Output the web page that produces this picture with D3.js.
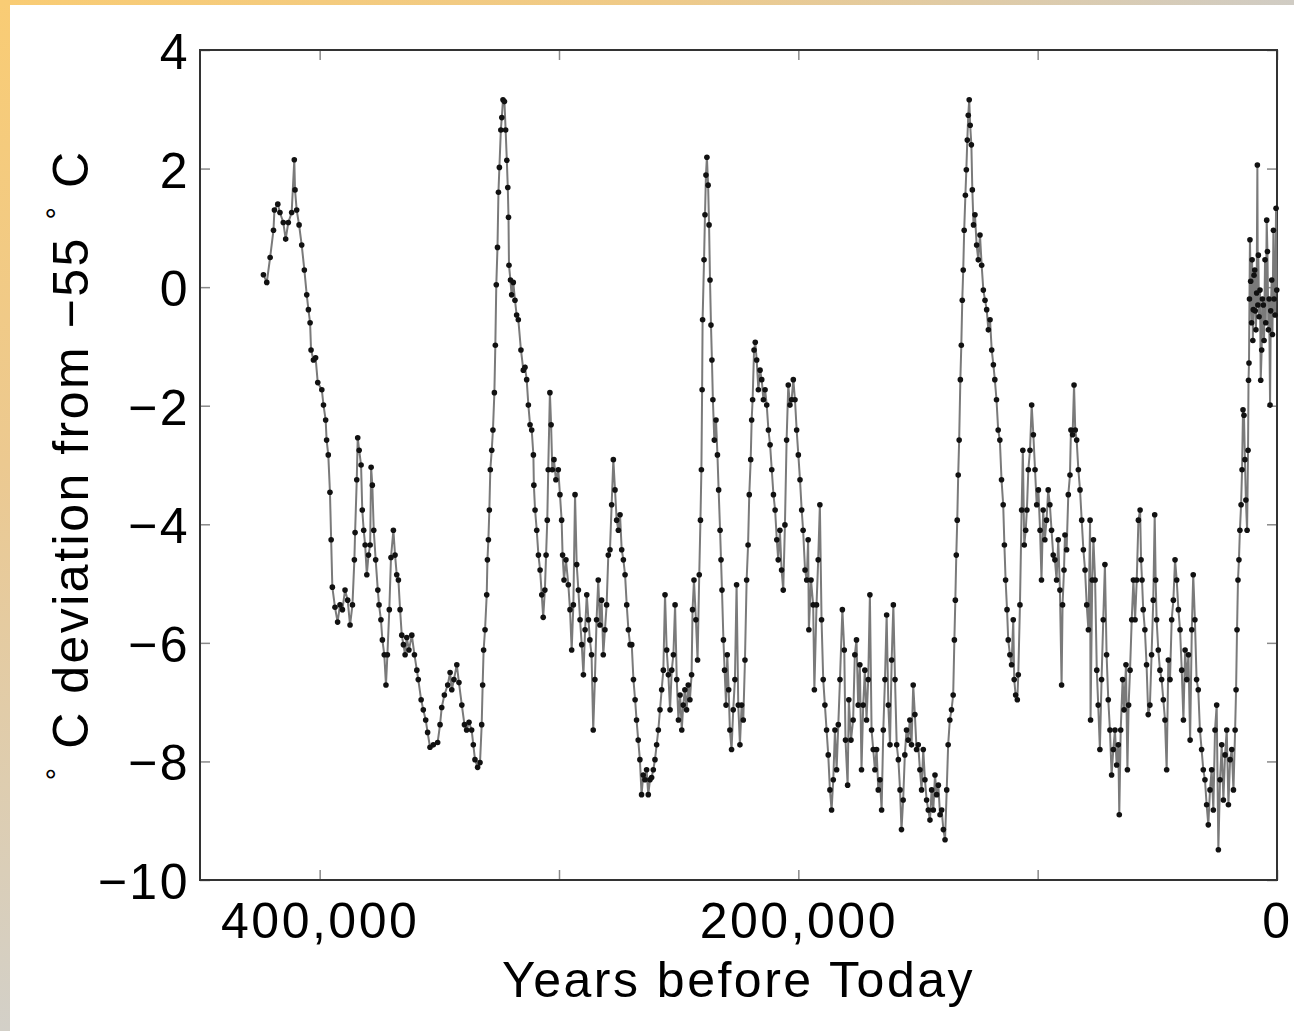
<!DOCTYPE html>
<html>
<head>
<meta charset="utf-8">
<script src="https://cdn.jsdelivr.net/npm/d3@7"></script>
<style>
  html, body { margin: 0; padding: 0; background: #fff; }
  svg text { font-family: 'Liberation Sans', Arial, Helvetica, sans-serif; fill: #000; }
</style>
</head>
<body>
<svg id="chart" width="1294" height="1031"></svg>
<script>
// Vostok record: [thousand years before today, deg C deviation]
const vostok = [
  [423.5, 0.21], [422.1, 0.08], [420.7, 0.50], [419.3, 0.96], [418.9, 1.30], [417.5, 1.40], [416.6, 1.26],
  [415.2, 1.09], [414.2, 0.81], [413.1, 1.09], [411.7, 1.26], [410.6, 2.15], [410.3, 1.64], [409.6, 1.30],
  [408.6, 1.05], [407.5, 0.71], [406.4, 0.29], [405.4, -0.13], [404.7, -0.38], [404.0, -0.60], [403.6, -1.06],
  [402.6, -1.23], [401.7, -1.19], [400.8, -1.61], [399.1, -1.73], [398.4, -1.99], [397.5, -2.24], [397.1, -2.58],
  [396.4, -2.83], [395.7, -3.46], [395.2, -4.26], [394.7, -5.06], [393.6, -5.40], [392.5, -5.65], [391.5, -5.36],
  [390.5, -5.44], [389.4, -5.11], [388.3, -5.28], [387.3, -5.70], [386.3, -5.36], [385.5, -4.60], [385.2, -4.14],
  [384.5, -3.25], [384.1, -2.54], [383.5, -2.75], [382.7, -3.00], [382.2, -3.76], [381.6, -4.10], [381.0, -4.35],
  [380.3, -4.85], [379.6, -4.52], [378.9, -4.35], [378.5, -3.04], [378.0, -3.34], [377.4, -4.10], [376.6, -4.60],
  [375.7, -5.11], [375.2, -5.36], [374.4, -5.61], [373.8, -5.95], [373.0, -6.20], [372.3, -6.71], [371.7, -6.20],
  [370.9, -5.44], [370.2, -4.56], [369.2, -4.10], [368.5, -4.52], [367.8, -4.85], [367.1, -4.94], [366.4, -5.44],
  [365.7, -5.87], [365.0, -6.03], [364.3, -6.20], [363.6, -5.91], [362.7, -6.12], [361.5, -5.87], [360.4, -6.20],
  [359.4, -6.46], [358.8, -6.62], [357.6, -6.96], [356.7, -7.13], [355.7, -7.30], [354.9, -7.51], [353.9, -7.76],
  [352.5, -7.72], [350.7, -7.68], [349.7, -7.38], [349.0, -7.09], [347.9, -6.88], [346.5, -6.71], [345.5, -6.50],
  [344.8, -6.79], [343.9, -6.62], [342.7, -6.37], [341.8, -6.67], [340.6, -7.05], [339.5, -7.38], [338.6, -7.47],
  [337.6, -7.34], [336.5, -7.47], [335.8, -7.72], [335.1, -7.97], [334.0, -8.10], [333.0, -8.02], [332.3, -7.38],
  [331.9, -6.71], [331.5, -6.12], [330.9, -5.78], [330.2, -5.19], [329.9, -4.60], [329.5, -4.26], [329.1, -3.76],
  [328.7, -3.08], [328.1, -2.75], [327.6, -2.41], [327.0, -1.78], [326.6, -0.98], [326.2, 0.04], [325.7, 0.67],
  [325.3, 1.60], [324.9, 2.02], [324.3, 2.65], [323.9, 2.86], [323.4, 3.16], [322.8, 3.13], [322.3, 2.65],
  [321.8, 2.14], [321.4, 1.68], [321.1, 1.18], [320.9, 0.37], [320.3, 0.12], [319.8, -0.13], [319.1, 0.08],
  [318.4, -0.22], [317.7, -0.47], [317.0, -0.55], [315.9, -1.06], [314.9, -1.40], [314.2, -1.35], [313.5, -1.56],
  [312.8, -1.99], [312.1, -2.32], [311.4, -2.41], [310.7, -2.83], [310.5, -3.34], [310.0, -3.76], [309.3, -4.10],
  [308.6, -4.52], [307.9, -4.77], [307.2, -5.19], [306.6, -5.57], [305.9, -5.11], [305.4, -4.52], [304.9, -3.93],
  [304.5, -3.08], [303.8, -1.78], [303.3, -2.32], [302.8, -3.08], [302.1, -2.91], [301.3, -3.25], [300.3, -3.08],
  [299.6, -3.50], [298.9, -3.93], [298.5, -4.52], [297.9, -4.94], [297.1, -4.60], [296.1, -5.02], [295.4, -5.44],
  [294.7, -6.12], [294.0, -5.36], [293.3, -3.50], [292.6, -4.68], [291.9, -5.11], [291.2, -5.61], [290.5, -6.03],
  [289.8, -6.54], [289.1, -5.78], [288.4, -5.19], [287.7, -5.61], [287.1, -5.95], [286.4, -6.20], [285.7, -7.47],
  [285.0, -6.62], [284.3, -5.61], [283.6, -4.94], [282.9, -5.70], [282.2, -5.28], [281.5, -6.20], [280.8, -5.78],
  [280.1, -5.36], [279.4, -4.52], [278.7, -4.43], [278.0, -3.67], [277.3, -2.91], [276.6, -3.42], [275.9, -3.93],
  [275.2, -4.10], [274.5, -3.84], [273.8, -4.43], [273.1, -4.60], [272.4, -4.85], [271.7, -5.36], [271.0, -5.78],
  [270.3, -6.03], [269.6, -6.03], [268.9, -6.62], [268.2, -6.96], [267.6, -7.30], [266.9, -7.64], [266.2, -7.97],
  [265.5, -8.56], [264.8, -8.23], [264.1, -8.31], [263.4, -8.14], [262.7, -8.56], [262.0, -8.31], [261.3, -8.27],
  [260.6, -8.14], [259.9, -7.97], [259.2, -7.72], [258.5, -7.47], [257.8, -7.13], [257.1, -6.79], [256.4, -6.46],
  [255.7, -5.19], [255.0, -6.12], [254.3, -6.54], [253.6, -7.13], [252.9, -6.46], [252.2, -6.20], [251.5, -5.36],
  [250.8, -6.62], [250.1, -7.30], [249.4, -6.88], [248.7, -7.47], [248.1, -7.05], [247.4, -6.79], [246.7, -7.13],
  [246.0, -6.71], [245.3, -6.96], [244.6, -6.54], [244.2, -5.44], [243.6, -4.94], [242.8, -5.61], [242.1, -6.29],
  [241.4, -4.85], [240.9, -3.93], [240.5, -3.08], [240.2, -1.73], [240.0, -0.55], [239.4, 0.46], [239.0, 1.22],
  [238.6, 1.89], [238.2, 2.19], [237.7, 1.72], [237.3, 1.05], [236.9, 0.12], [236.5, -0.64], [236.1, -1.23],
  [235.7, -1.90], [235.1, -2.58], [234.4, -2.24], [233.8, -2.83], [233.3, -3.42], [232.7, -4.10], [232.3, -4.60],
  [231.9, -5.11], [231.3, -5.95], [230.8, -6.46], [230.2, -7.05], [229.7, -6.20], [229.1, -6.79], [228.6, -7.47],
  [227.9, -7.80], [227.2, -7.13], [226.5, -6.62], [225.8, -5.02], [225.1, -7.05], [224.4, -7.72], [223.7, -7.05],
  [223.0, -7.30], [222.3, -6.29], [221.6, -4.94], [221.0, -4.35], [220.5, -3.50], [219.9, -2.91], [219.5, -2.24],
  [219.1, -1.90], [218.5, -1.06], [218.0, -0.93], [217.4, -1.23], [216.7, -1.73], [216.0, -1.40], [215.3, -1.56],
  [214.6, -1.90], [213.9, -1.73], [213.2, -1.99], [212.5, -2.41], [211.8, -2.66], [211.1, -3.08], [210.4, -3.50],
  [209.7, -3.76], [209.0, -4.26], [208.4, -4.60], [207.7, -4.10], [207.0, -4.77], [206.3, -5.11], [205.6, -4.01],
  [204.9, -2.58], [204.2, -1.65], [203.5, -1.99], [202.8, -1.90], [202.1, -1.56], [201.4, -1.90], [200.7, -2.41],
  [200.0, -2.83], [199.3, -3.25], [198.6, -3.76], [198.0, -4.10], [197.2, -4.77], [196.5, -4.94], [195.9, -4.26],
  [195.6, -5.78], [194.7, -4.94], [193.8, -5.36], [193.3, -6.79], [192.4, -5.36], [191.7, -4.60], [191.0, -3.67],
  [190.3, -5.61], [189.6, -6.62], [188.9, -7.05], [188.2, -7.47], [187.5, -7.89], [186.8, -8.48], [186.1, -8.82],
  [185.4, -8.31], [184.7, -7.47], [184.0, -8.14], [183.3, -7.38], [182.6, -6.62], [181.6, -5.44], [180.8, -6.12],
  [180.3, -7.64], [179.4, -8.40], [178.9, -6.96], [178.0, -7.64], [177.1, -7.30], [176.4, -6.20], [175.7, -5.95],
  [175.0, -7.05], [174.3, -6.37], [173.6, -8.14], [172.9, -7.05], [172.2, -6.46], [171.5, -7.30], [170.8, -6.62],
  [170.1, -5.19], [169.4, -7.47], [168.7, -7.80], [168.0, -8.14], [167.3, -7.80], [166.6, -8.48], [165.9, -8.31],
  [165.2, -8.82], [164.5, -7.47], [163.8, -6.62], [163.1, -5.53], [162.4, -7.05], [161.7, -7.72], [161.0, -6.29],
  [160.3, -5.36], [159.6, -6.62], [158.9, -7.72], [158.2, -7.97], [157.5, -8.48], [156.9, -9.15], [156.2, -8.65],
  [155.5, -7.89], [154.8, -7.47], [154.1, -7.64], [153.4, -7.30], [152.7, -7.72], [152.0, -6.71], [151.3, -7.21],
  [150.6, -7.80], [149.9, -7.72], [149.2, -8.14], [148.5, -8.48], [147.8, -7.80], [147.1, -8.31], [146.4, -8.65],
  [145.7, -8.82], [145.0, -8.99], [144.3, -8.48], [143.6, -8.82], [142.9, -8.23], [142.2, -8.56], [141.5, -8.40],
  [140.8, -8.90], [140.1, -8.82], [139.4, -9.15], [138.7, -9.32], [138.0, -8.48], [137.4, -7.72], [136.7, -7.30],
  [136.0, -7.13], [135.3, -6.88], [134.8, -5.95], [134.4, -5.28], [134.0, -4.52], [133.6, -3.93], [133.2, -3.17],
  [132.8, -2.58], [132.3, -1.56], [131.9, -0.98], [131.5, -0.22], [131.1, 0.29], [130.7, 0.96], [130.2, 1.55],
  [129.8, 1.98], [129.4, 2.48], [129.0, 2.90], [128.6, 3.16], [128.2, 2.73], [127.7, 2.40], [127.3, 1.64],
  [126.8, 1.05], [126.2, 1.22], [125.5, 0.71], [124.8, 0.46], [124.1, 0.88], [123.4, 0.37], [122.7, -0.05],
  [122.0, -0.22], [121.3, -0.38], [120.6, -0.72], [119.9, -0.55], [119.2, -1.06], [118.5, -1.31], [117.9, -1.56],
  [117.2, -1.90], [116.5, -2.41], [115.8, -2.58], [115.1, -3.25], [114.4, -3.67], [113.9, -4.35], [113.4, -4.94],
  [112.8, -5.44], [112.3, -5.95], [111.6, -6.20], [110.9, -6.37], [110.2, -5.61], [109.8, -6.62], [109.2, -6.88],
  [108.5, -6.96], [108.1, -6.54], [107.4, -5.36], [106.7, -3.76], [106.2, -2.75], [105.6, -4.35], [105.0, -4.10],
  [104.5, -3.76], [103.9, -3.08], [103.2, -2.75], [102.5, -1.99], [101.8, -2.49], [101.1, -3.08], [100.4, -3.67],
  [99.7, -3.42], [99.0, -4.10], [98.4, -4.94], [97.7, -3.76], [97.0, -4.26], [96.3, -3.93], [95.6, -3.42],
  [94.9, -3.67], [94.2, -4.10], [93.5, -4.52], [92.8, -4.60], [92.1, -4.94], [91.4, -4.26], [90.7, -5.11],
  [90.0, -6.71], [89.6, -5.36], [89.0, -4.77], [88.6, -4.18], [87.9, -4.43], [87.2, -3.50], [86.5, -3.17],
  [86.1, -2.41], [85.4, -2.49], [84.8, -1.65], [84.3, -2.41], [83.7, -2.58], [83.0, -3.08], [82.3, -3.42],
  [81.6, -3.93], [80.9, -4.43], [80.2, -4.77], [79.5, -5.36], [78.8, -5.78], [78.1, -3.93], [77.9, -7.30],
  [77.2, -4.94], [76.7, -4.26], [76.0, -4.94], [75.3, -6.46], [74.7, -7.05], [74.0, -7.80], [73.3, -6.62],
  [72.6, -5.61], [71.9, -4.68], [71.2, -6.20], [70.5, -6.96], [69.8, -7.47], [69.1, -8.23], [68.4, -7.80],
  [67.7, -7.47], [67.0, -8.06], [66.3, -7.72], [65.9, -8.90], [65.3, -7.47], [64.5, -6.62], [63.9, -7.13],
  [63.1, -6.37], [62.5, -8.14], [62.0, -7.05], [61.4, -6.46], [60.7, -5.61], [60.0, -4.94], [59.3, -5.61],
  [58.6, -4.94], [57.9, -3.93], [57.2, -3.76], [56.8, -4.60], [56.4, -4.94], [55.9, -5.44], [55.2, -5.78],
  [54.5, -6.37], [53.8, -7.21], [53.1, -7.05], [52.4, -6.20], [51.7, -5.28], [51.1, -3.84], [50.7, -4.94],
  [50.3, -5.61], [49.6, -6.12], [48.9, -6.46], [48.2, -6.62], [47.5, -6.96], [46.8, -7.30], [46.1, -8.14],
  [45.4, -6.29], [44.7, -6.62], [44.0, -5.61], [43.3, -5.28], [42.6, -4.60], [41.9, -4.94], [41.2, -5.44],
  [40.5, -5.78], [39.8, -6.46], [39.1, -7.30], [38.4, -6.12], [37.7, -6.62], [37.0, -6.20], [36.3, -7.64],
  [35.6, -5.78], [35.0, -4.85], [34.3, -5.61], [33.6, -6.62], [32.9, -6.79], [32.2, -7.47], [31.5, -7.80],
  [30.8, -8.14], [30.1, -8.31], [29.4, -8.73], [28.7, -9.07], [28.0, -8.48], [27.3, -8.14], [26.6, -8.82],
  [25.9, -7.47], [25.2, -7.05], [24.5, -9.49], [23.8, -8.31], [23.1, -7.72], [22.4, -8.65], [21.7, -7.89],
  [21.0, -7.47], [20.3, -8.73], [19.6, -7.97], [18.9, -7.80], [18.2, -8.48], [17.5, -7.47], [17.1, -6.79],
  [16.7, -5.78], [16.3, -4.94], [15.9, -4.60], [15.5, -4.10], [15.0, -3.67], [14.6, -3.08], [14.2, -2.07],
  [13.8, -2.16], [13.4, -2.91], [13.0, -3.59], [12.5, -4.10], [12.1, -2.75], [11.9, -1.57], [11.7, -1.28],
  [11.5, -0.20], [11.3, 0.80], [11.0, 0.10], [10.6, -0.60], [10.4, 0.46], [10.1, -0.90], [9.9, -0.38],
  [9.6, 0.20], [9.3, 0.29], [9.1, -0.40], [8.8, -0.72], [8.5, -0.10], [8.2, 2.06], [8.0, -0.30],
  [7.8, 0.54], [7.5, -0.50], [7.1, -0.05], [6.8, -1.57], [6.4, -1.06], [6.1, -0.20], [5.7, -0.30],
  [5.4, -0.90], [5.0, 0.46], [4.7, -0.60], [4.3, 1.13], [4.0, 0.60], [3.6, -0.72], [3.3, -0.20],
  [2.9, -1.99], [2.6, -0.40], [2.2, 0.12], [1.9, -0.80], [1.5, 0.96], [1.2, -0.20], [0.8, -0.47],
  [0.4, 1.33], [0.1, -0.05]
]

const xTicks = [400, 300, 200, 100, 0]
const xTickLabels = { 400: '400,000', 200: '200,000', 0: '0' }
const yTicks = [4, 2, 0, -2, -4, -6, -8, -10]

const svg = d3.select('#chart')
const plot = { left: 200, right: 1277, top: 50, bottom: 880 }

const x = d3.scaleLinear().domain([450, 0]).range([plot.left, plot.right])
const y = d3.scaleLinear().domain([-10, 4]).range([plot.bottom, plot.top])

drawFrame()
drawAxes()
drawSeries()
drawLabels()

function drawFrame () {
  const defs = svg.append('defs')
  const gv = defs.append('linearGradient').attr('id', 'edgeV')
    .attr('x1', 0).attr('y1', 0).attr('x2', 0).attr('y2', 1)
  gv.append('stop').attr('offset', '0%').attr('stop-color', '#f9cc74')
  gv.append('stop').attr('offset', '45%').attr('stop-color', '#ecc990')
  gv.append('stop').attr('offset', '100%').attr('stop-color', '#d3d0c8')
  const gh = defs.append('linearGradient').attr('id', 'edgeH')
    .attr('x1', 0).attr('y1', 0).attr('x2', 1).attr('y2', 0)
  gh.append('stop').attr('offset', '0%').attr('stop-color', '#f9cc74')
  gh.append('stop').attr('offset', '50%').attr('stop-color', '#efca88')
  gh.append('stop').attr('offset', '100%').attr('stop-color', '#d0ccc4')

  svg.append('rect').attr('x', 0).attr('y', 0).attr('width', 1294).attr('height', 1031).attr('fill', '#fff')
  svg.append('rect').attr('x', 0).attr('y', 0).attr('width', 10).attr('height', 1031).attr('fill', 'url(#edgeV)')
  svg.append('rect').attr('x', 0).attr('y', 0).attr('width', 1294).attr('height', 5).attr('fill', 'url(#edgeH)')
}

function drawAxes () {
  const tick = 10

  svg.append('g')
    .attr('class', 'axis')
    .attr('transform', 'translate(0,' + plot.bottom + ')')
    .call(d3.axisBottom(x).tickValues(xTicks).tickSize(-tick).tickPadding(22)
      .tickFormat(d => xTickLabels[d] || ''))

  svg.append('g')
    .attr('class', 'axis')
    .attr('transform', 'translate(0,' + plot.top + ')')
    .call(d3.axisTop(x).tickValues(xTicks).tickSize(-tick).tickFormat(''))

  svg.append('g')
    .attr('class', 'axis yleft')
    .attr('transform', 'translate(' + plot.left + ',0)')
    .call(d3.axisLeft(y).tickValues(yTicks).tickSize(-tick).tickPadding(10)
      .tickFormat(d => d < 0 ? '\u2212' + Math.abs(d) : d))

  svg.append('g')
    .attr('class', 'axis')
    .attr('transform', 'translate(' + plot.right + ',0)')
    .call(d3.axisRight(y).tickValues(yTicks).tickSize(-tick).tickFormat(''))

  svg.selectAll('.axis .domain').remove()
  svg.selectAll('.axis line').attr('stroke', '#8a8a8a').attr('stroke-width', 1.5)
  svg.selectAll('.axis text')
    .attr('fill', '#000')
    .style('font-size', '50px')
    .style('letter-spacing', '2.5px')
  svg.selectAll('.yleft text').attr('dy', '0.37em')

  svg.append('rect')
    .attr('x', plot.left)
    .attr('y', plot.top)
    .attr('width', plot.right - plot.left)
    .attr('height', plot.bottom - plot.top)
    .attr('fill', 'none')
    .attr('stroke', '#333')
    .attr('stroke-width', 2)
}

function drawSeries () {
  const line = d3.line()
    .x(d => x(d[0]))
    .y(d => y(d[1]))

  svg.append('path')
    .datum(vostok)
    .attr('d', line)
    .attr('fill', 'none')
    .attr('stroke', '#7a7a7a')
    .attr('stroke-width', 2)

  svg.append('g')
    .selectAll('circle')
    .data(vostok)
    .enter()
    .append('circle')
    .attr('cx', d => x(d[0]))
    .attr('cy', d => y(d[1]))
    .attr('r', 2.8)
    .attr('fill', '#111')
}

function drawLabels () {
  svg.append('text')
    .attr('x', (plot.left + plot.right) / 2)
    .attr('y', 997)
    .attr('text-anchor', 'middle')
    .style('font-size', '50px')
    .style('letter-spacing', '2.5px')
    .text('Years before Today')

  const yl = svg.append('text')
    .attr('transform', 'translate(88,' + (plot.top + plot.bottom) / 2 + ') rotate(-90)')
    .attr('text-anchor', 'middle')
    .style('font-size', '50px')
    .style('letter-spacing', '2.5px')
  yl.append('tspan').attr('dy', -20).style('font-size', '32px').text('\u00b0')
  yl.append('tspan').attr('dy', 20).text(' C deviation from \u221255 ')
  yl.append('tspan').attr('dy', -20).style('font-size', '32px').text('\u00b0')
  yl.append('tspan').attr('dy', 20).text(' C')
}
</script>
</body>
</html>
